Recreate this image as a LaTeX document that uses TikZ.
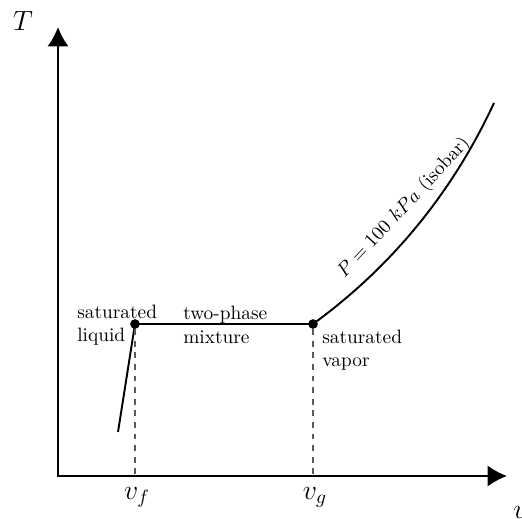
\documentclass[tikz,border=0pt]{standalone}
\usetikzlibrary{arrows.meta,positioning}

\begin{document}
\begin{tikzpicture}[x=0.01817cm, y=0.01817cm, every node/.style={font=\normalsize},
    axisline/.style={line width=1.2pt, {Latex[length=10pt,width=11pt]}-{Latex[length=10pt,width=11pt]}},
    phaseline/.style={line width=1pt},
    guide/.style={dashed, gray!70!black, line width=0.6pt},
    statept/.style={circle, fill, inner sep=0pt, minimum size=5pt},
    note/.style={align=left, anchor=west, inner sep=1pt}]
  \useasboundingbox (0,0) rectangle (522,518);
  % axes
  \coordinate (origin) at (58,42);
  \coordinate (Ttip) at (58,491);
  \coordinate (vtip) at (507,42);
  \draw[axisline] (Ttip) -- (origin) -- (vtip);
  \node (Tlabel) at (23,497) {\Large $T$};
  \node[anchor=west, inner sep=0pt] (vlabel) at (513,5) {\Large $v$};
  % saturation states
  \node[statept] (satliq) at (135,194) {};
  \node[statept] (satvap) at (313,194) {};
  \coordinate (liqlow) at (118,86);
  \coordinate (isoend) at (494,415);
  \draw[phaseline] (liqlow) -- (satliq.center) -- (satvap.center);
  \draw[phaseline] (satvap.center) .. controls (383,245) and (448,316) .. (isoend);
  \draw[guide] (satliq) -- (satliq |- origin);
  \draw[guide] (satvap) -- (satvap |- origin);
  \node (vf) at (137,21) {\Large $v_{f}$};
  \node (vg) at (315,21) {\Large $v_{g}$};
  % labels
  \node[note] (liqnote) at (75,193) {saturated\\liquid};
  \node[note] (mixnote) at (181,193) {two-phase\\mixture};
  \node[note] (vapnote) at (320,168) {saturated\\vapor};
  \node[rotate=47] (isonote) at (404,310) {$P = 100\ kPa$ (isobar)};
\end{tikzpicture}
\end{document}
